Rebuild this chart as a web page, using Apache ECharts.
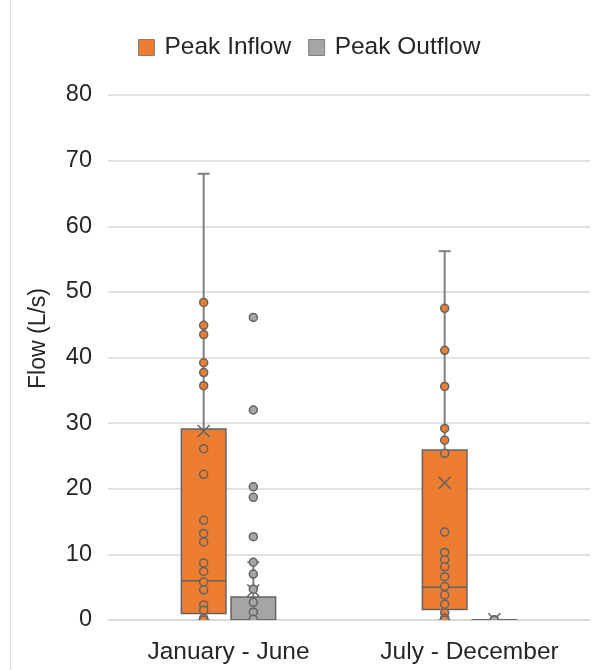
<!DOCTYPE html>
<html>
<head>
<meta charset="utf-8">
<script src="https://cdn.jsdelivr.net/npm/echarts@6/dist/echarts.min.js"></script>
<style>html,body{margin:0;padding:0;background:#fff;}#c{width:607px;height:670px;}</style>
</head>
<body>
<div id="c"></div>
<script>
const categories = ['January - June', 'July - December'];
const yTicks = [0, 10, 20, 30, 40, 50, 60, 70, 80];
// box stats: [min, Q1, median, Q3, max]
const inflowBox = [[0, 1.0, 6.0, 29.1, 68.0], [0, 1.6, 5.0, 25.9, 56.2]];
const inflowMean = [28.8, 20.9];
const outflowBox = [[0, 0, 0, 3.5, 8.8], [0, 0, 0, 0, 0]];
const outflowMean = [4.5, 0.1];
const inflowPointsJan = [48.4, 44.9, 43.5, 39.2, 37.7, 35.7, 26.1, 22.2, 15.2, 13.2, 11.9, 8.7, 7.4, 5.8, 4.6, 2.3, 1.5, 0.3, 0];
const inflowPointsJul = [47.5, 41.1, 35.6, 29.2, 27.4, 25.4, 13.4, 10.3, 9.2, 8.1, 6.6, 5.1, 3.8, 2.4, 1.1, 0.3, 0];
const outflowPointsJan = [46.1, 32.0, 20.3, 18.7, 12.7, 8.8, 7.0, 4.7, 2.7, 1.2, 0.1];
const outflowPointsJul = [0, 0, 0];

const ORANGE = '#ED7D31', GREY = '#A5A5A5', EDGE = '#636363', WHISK = '#7F7F7F';
const OFFSET = 0.103, BOXW = 0.185;

function boxData(stats, means) {
  return stats.map((s, i) => [i, s[0], s[1], s[2], s[3], s[4], means[i]]);
}
function ptData(a, b) {
  return a.map(v => [0, v]).concat(b.map(v => [1, v]));
}
function boxRender(side, color) {
  return function (params, api) {
    const cat = api.value(0);
    const band = api.size([1, 0])[0];
    const cx = api.coord([cat, 0])[0] + side * OFFSET * band;
    const y = v => api.coord([cat, v])[1];
    const w = BOXW * band;
    const mn = y(api.value(1)), q1 = y(api.value(2)), md = y(api.value(3)),
          q3 = y(api.value(4)), mx = y(api.value(5)), mean = y(api.value(6));
    const ls = { stroke: WHISK, lineWidth: 2 };
    const cap = 6;
    const ms = 6;
    return {
      type: 'group',
      children: [
        { type: 'line', shape: { x1: cx, y1: mx, x2: cx, y2: q3 }, style: ls },
        { type: 'line', shape: { x1: cx, y1: q1, x2: cx, y2: mn }, style: ls },
        { type: 'line', shape: { x1: cx - cap, y1: mx, x2: cx + cap, y2: mx }, style: ls },
        { type: 'line', shape: { x1: cx - cap, y1: mn, x2: cx + cap, y2: mn }, style: ls },
        { type: 'rect', shape: { x: cx - w / 2, y: q3, width: w, height: Math.max(q1 - q3, 1) },
          style: { fill: color, stroke: EDGE, lineWidth: 1.5 } },
        { type: 'line', shape: { x1: cx - w / 2, y1: md, x2: cx + w / 2, y2: md }, style: { stroke: EDGE, lineWidth: 1.5 } },
        { type: 'line', z2: 20, shape: { x1: cx - ms, y1: mean - ms, x2: cx + ms, y2: mean + ms }, style: { stroke: EDGE, lineWidth: 1.5 } },
        { type: 'line', z2: 20, shape: { x1: cx - ms, y1: mean + ms, x2: cx + ms, y2: mean - ms }, style: { stroke: EDGE, lineWidth: 1.5 } }
      ]
    };
  };
}
function ptRender(side, color) {
  return function (params, api) {
    const cat = api.value(0);
    const band = api.size([1, 0])[0];
    const p = api.coord([cat, api.value(1)]);
    return {
      type: 'circle',
      shape: { cx: p[0] + side * OFFSET * band, cy: p[1], r: 4 },
      style: { fill: color, stroke: EDGE, lineWidth: 1.5 }
    };
  };
}

const chart = echarts.init(document.getElementById('c'), null, { renderer: 'canvas' });
const FONT = 'Liberation Sans, Arial, sans-serif';
chart.setOption({
  animation: false,
  backgroundColor: '#fff',
  textStyle: { fontFamily: FONT },
  graphic: [{ type: 'line', shape: { x1: 10.5, y1: 0, x2: 10.5, y2: 670 }, style: { stroke: '#e0e0e0', lineWidth: 1 } }],
  legend: {
    data: ['Peak Inflow', 'Peak Outflow'],
    left: 133, top: 30,
    icon: 'rect', itemWidth: 16, itemHeight: 16, itemGap: 17,
    itemStyle: { borderColor: '#7F7F7F', borderWidth: 1 },
    textStyle: { fontSize: 24.5, color: '#262626', fontFamily: FONT, padding: [0, 0, 0, 5] }
  },
  grid: { left: 108, right: 17, top: 95, bottom: 50 },
  xAxis: {
    type: 'category', data: categories,
    axisLine: { lineStyle: { color: '#D9D9D9', width: 1.5 } },
    axisTick: { show: false },
    axisLabel: { fontSize: 24.5, color: '#262626', margin: 20, fontFamily: FONT }
  },
  yAxis: {
    type: 'value', min: yTicks[0], max: yTicks[yTicks.length - 1], interval: 10,
    name: 'Flow (L/s)', nameLocation: 'middle', nameGap: 58,
    nameTextStyle: { fontSize: 23, color: '#262626', fontFamily: FONT, padding: [0, 0, 0, 38] },
    axisLine: { show: false }, axisTick: { show: false },
    axisLabel: { fontSize: 23.5, color: '#262626', margin: 16, fontFamily: FONT },
    splitLine: { lineStyle: { color: '#D9D9D9', width: 1.5 } }
  },
  series: [
    { name: 'Peak Inflow', type: 'custom', clip: true, renderItem: boxRender(-1, ORANGE),
      itemStyle: { color: ORANGE }, encode: { x: 0, y: [1, 2, 3, 4, 5, 6] }, data: boxData(inflowBox, inflowMean), z: 2 },
    { name: 'Peak Outflow', type: 'custom', clip: true, renderItem: boxRender(1, GREY),
      itemStyle: { color: GREY }, encode: { x: 0, y: [1, 2, 3, 4, 5, 6] }, data: boxData(outflowBox, outflowMean), z: 2 },
    { name: 'Peak Inflow', type: 'custom', clip: true, renderItem: ptRender(-1, ORANGE),
      itemStyle: { color: ORANGE }, encode: { x: 0, y: 1 }, data: ptData(inflowPointsJan, inflowPointsJul), z: 3 },
    { name: 'Peak Outflow', type: 'custom', clip: true, renderItem: ptRender(1, GREY),
      itemStyle: { color: GREY }, encode: { x: 0, y: 1 }, data: ptData(outflowPointsJan, outflowPointsJul), z: 3 }
  ]
});
</script>
</body>
</html>
